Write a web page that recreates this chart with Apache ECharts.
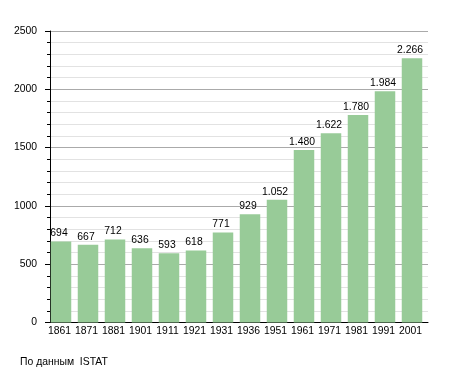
<!DOCTYPE html>
<html><head><meta charset="utf-8">
<script src="https://cdn.jsdelivr.net/npm/echarts@6/dist/echarts.min.js"></script>
<style>html,body{margin:0;padding:0;background:#fff}#c{width:455px;height:373px}</style>
</head><body><div id="c"></div>
<script>
const years = ['1861','1871','1881','1901','1911','1921','1931','1936','1951','1961','1971','1981','1991','2001'];
const population = [694,667,712,636,593,618,771,929,1052,1480,1622,1780,1984,2266];
const yTicks = [0,500,1000,1500,2000,2500];
const footer = 'По данным\u00a0 ISTAT';

function fmt(v){ return String(v).replace(/\B(?=(\d{3})+(?!\d))/g,'.'); }
const FONT = 'Liberation Sans, Arial, sans-serif';
const FS = 10.4;
const chart = echarts.init(document.getElementById('c'), null, {renderer:'canvas'});
chart.setOption({
  animation:false,
  backgroundColor:'#fff',
  grid:{left:50,right:27,top:31,bottom:50.5,containLabel:false},
  graphic:[{type:'text',left:20,top:357,style:{text:footer,font:FS+'px '+FONT,fill:'#000'}}],
  xAxis:{type:'category',data:years,boundaryGap:true,
    axisLine:{lineStyle:{color:'#000',width:1}},
    axisTick:{show:false},
    axisLabel:{color:'#000',fontFamily:FONT,fontSize:FS,margin:4,interval:0,padding:[0,8,0,0]},
    splitLine:{show:false}},
  yAxis:{type:'value',min:yTicks[0],max:yTicks[yTicks.length-1],interval:500,
    axisLine:{show:true,lineStyle:{color:'#000',width:1}},
    axisTick:{show:true,length:5,lineStyle:{color:'#000'}},
    minorTick:{show:true,splitNumber:5,length:3,lineStyle:{color:'#000'}},
    axisLabel:{color:'#000',fontFamily:FONT,fontSize:FS,margin:13,formatter:v=>String(v)},
    splitLine:{show:true,lineStyle:{color:'#aaa',width:1}},
    minorSplitLine:{show:true,lineStyle:{color:'#e2e2e2',width:1}}},
  series:[
    {type:'bar',data:population,barWidth:20.5,barGap:0,
     itemStyle:{color:'#98cb98'},
     label:{show:true,position:'top',distance:3,color:'#000',fontFamily:FONT,fontSize:FS,
       padding:[0,4,0,0],formatter:p=>fmt(p.value)}},
    {type:'bar',data:[],barWidth:5,barGap:0}
  ]
});
</script></body></html>
